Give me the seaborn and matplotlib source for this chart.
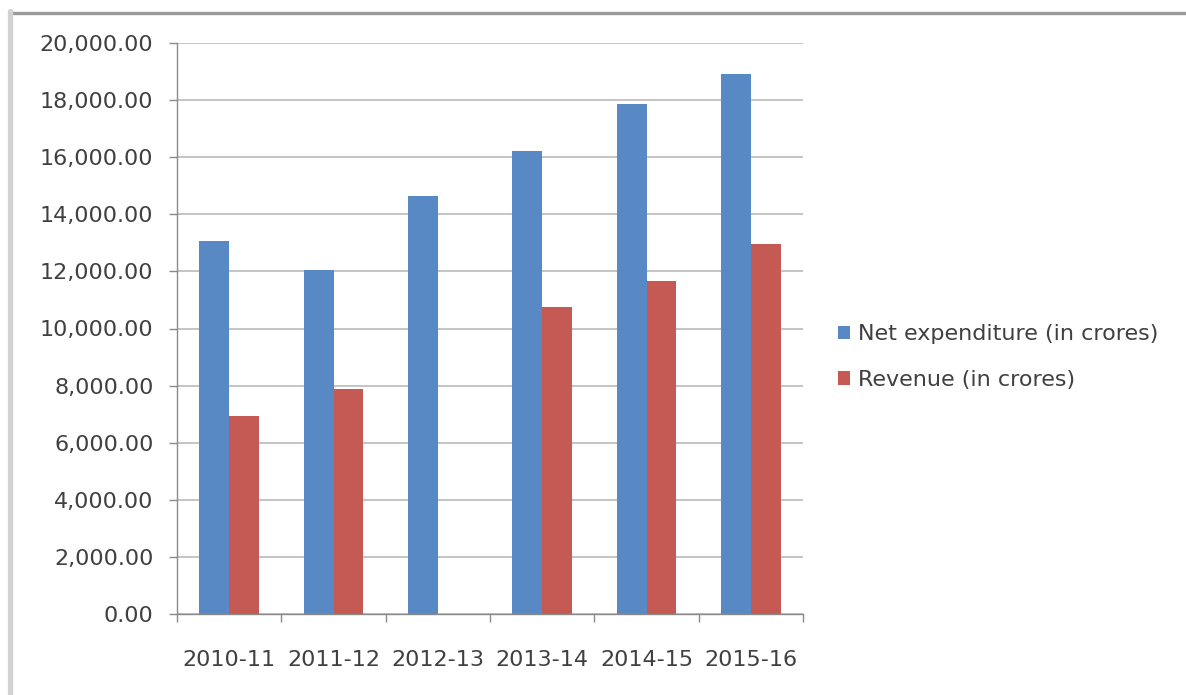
import numpy as np
import pandas as pd
import matplotlib
matplotlib.use("Agg")
import matplotlib.pyplot as plt
from matplotlib.patches import Patch
from matplotlib.lines import Line2D
from matplotlib.ticker import FuncFormatter, FixedLocator
import seaborn as sns

years = ["2010-11", "2011-12", "2012-13", "2013-14", "2014-15", "2015-16"]
net_expenditure = [13050, 12050, 14650, 16200, 17850, 18920]
revenue = [6950, 7880, np.nan, 10740, 11670, 12950]
series_names = ["Net expenditure (in crores)", "Revenue (in crores)"]
colors = ["#5889C4", "#C55A55"]

df = pd.DataFrame({
    "year": years * 2,
    "series": [series_names[0]] * len(years) + [series_names[1]] * len(years),
    "value": net_expenditure + revenue,
})

sns.set_theme(style="white")
plt.rcParams["font.family"] = ["DejaVu Sans"]
text_color = "#404040"
fs = 16

fig = plt.figure(figsize=(11.86, 6.95), dpi=100)
ax = fig.add_axes([177 / 1186, 1 - 614 / 695, (803 - 177) / 1186, (614 - 43) / 695])

sns.barplot(data=df, x="year", y="value", hue="series", hue_order=series_names,
            palette=colors, saturation=1, width=0.575, gap=0, legend=False,
            ax=ax, edgecolor="none", linewidth=0)

ax.set_ylim(0, 20000)
ax.set_xlim(-0.5, len(years) - 0.5)
ax.set_yticks(np.arange(0, 20001, 2000))
ax.yaxis.set_major_formatter(FuncFormatter(lambda v, p: f"{v:,.2f}"))
ax.set_xlabel("")
ax.set_ylabel("")

ax.grid(axis="y", color="#C4C4C4", linewidth=1.4)
ax.set_axisbelow(True)

for s in ["top", "right"]:
    ax.spines[s].set_visible(False)
for s in ["left", "bottom"]:
    ax.spines[s].set_color("#8A8A8A")
    ax.spines[s].set_linewidth(1.0)

ax.tick_params(axis="y", which="major", left=True, length=6, width=1.0, color="#8A8A8A",
               pad=11, labelsize=fs, labelcolor=text_color)
ax.tick_params(axis="x", which="major", bottom=False, length=0, pad=26,
               labelsize=fs, labelcolor=text_color)
ax.xaxis.set_minor_locator(FixedLocator(np.arange(-0.5, len(years), 1.0)))
ax.tick_params(axis="x", which="minor", bottom=True, length=6, width=1.0, color="#8A8A8A")

handles = [Patch(facecolor=c, edgecolor="none") for c in colors]
fig.legend(handles, series_names, loc="center left",
           bbox_to_anchor=(838 / 1186, 1 - 357 / 695), frameon=False,
           fontsize=fs, labelcolor=text_color, handlelength=0.55, handleheight=0.55,
           handletextpad=0.35, labelspacing=1.15, borderpad=0, borderaxespad=0)

# outer chart frame (top and left edges visible)
fig.add_artist(Line2D([10 / 1186, 1.0], [1 - 12.5 / 695, 1 - 12.5 / 695],
                      transform=fig.transFigure, color="#9A9A9A", linewidth=2.4))
fig.add_artist(Line2D([10 / 1186, 10 / 1186], [0.0, 1 - 11 / 695],
                      transform=fig.transFigure, color="#D2D2D2", linewidth=3.8))

fig.savefig("out.png", dpi=100, facecolor="white")
